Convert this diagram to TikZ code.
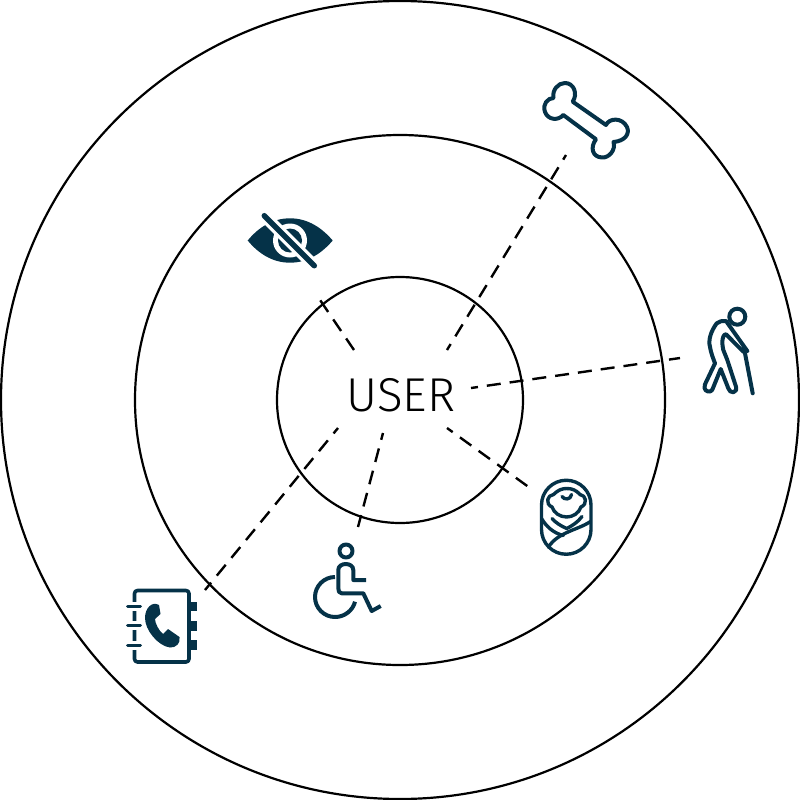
\documentclass[tikz,border=0pt]{standalone}
\usepackage{fontspec}
\setmainfont{Fira Sans}[UprightFont=* Light]
\definecolor{icon}{RGB}{5,50,72}
\tikzset{
    ring/.style={black, line width=2.2pt},
    link/.style={black, line width=2.4pt, dash pattern=on 14pt off 9pt},
    glyph/.style={icon, line width=4pt, line join=round, line cap=round},
}
\begin{document}
\begin{tikzpicture}[x=1pt, y=-1pt]
    \useasboundingbox (0,0) rectangle (800,800);

    % circles
    \foreach \r in {399, 265, 123} {
        \draw[ring] (400,400) circle (\r);
    }

    \node[text=black, font=\fontsize{47.5}{48}\selectfont, inner sep=0pt] (user) at (401,395) {USER};

    % dashed links
    \foreach \name/\xa/\ya/\xb/\yb/\ph in {bone/447/350/566/155/7, eye/354/350/318/297/0, walker/471/388/680/358/7,
        baby/447/428/530/488/7, chair/383/433/358/527/7, book/338/428/205/590/7} {
        \coordinate (\name a) at (\xa,\ya);
        \coordinate (\name b) at (\xb,\yb);
        \draw[link, dash phase=\ph pt] (\name a) -- (\name b);
    }

    % bone
    \draw[glyph] (572.7,101.7) -- (606,125) .. controls (609,118) and (622,117) .. (627,127)
        .. controls (630,134) and (625,141) .. (613.5,142) .. controls (616,150) and (609,158) .. (602,157.5)
        .. controls (592,157) and (590,147) .. (596,139.3) -- (563.3,115)
        .. controls (558,121) and (548,120) .. (545,112) .. controls (542,104) and (548,98) .. (553.5,98)
        .. controls (552,90) and (558,83) .. (565,83) .. controls (574,83) and (578,94) .. cycle;

    % eye
    \fill[icon] (247.7,240.5) .. controls (258,228) and (272,218.3) .. (290,218.3)
        .. controls (308,218.3) and (322,228) .. (332.7,240.5)
        .. controls (322,253) and (308,262.7) .. (290,262.7)
        .. controls (272,262.7) and (258,253) .. cycle;
    \fill[white] (290,240.5) circle (17);
    \fill[icon] (290,240.5) circle (12);
    \draw[white, line width=12pt] (258,209.5) -- (320,271.5);
    \draw[glyph, line width=5.5pt] (264.3,215.7) -- (314.3,265.7);

    % walker
    \draw[glyph] (737.3,316.7) circle (8);
    \draw[glyph] (747.3,351) -- (726,321) .. controls (722,321) and (719,321) .. (716.7,323.3)
        .. controls (711,331) and (708,340) .. (710,347) .. controls (711,353) and (713,358) .. (715,363.3)
        -- (705,384.3) .. controls (703,390) and (707,392) .. (710,391.5) .. controls (712,391) and (712,390) .. (713,388)
        -- (720.7,369) -- (728.3,388.3) .. controls (729,391) and (731,392.3) .. (733.3,392.3)
        .. controls (736,392) and (737,389) .. (736,386.7) -- (727.3,360) -- (723.3,350)
        .. controls (722,344) and (722,340) .. (723.3,336.7) .. controls (724,335) and (725,334) .. (726,334.3) -- (743.3,351.7);
    \draw[glyph] (745,353.3) -- (752.7,393.3);

    % baby
    \begin{scope}[glyph, line width=3.4pt]
        \draw (541.5,505) arc (180:360:24.75) -- (591,529.5) arc (0:180:24.75) -- cycle;
        % head
        \draw (553.5,494.5) .. controls (558,490) and (562,488.5) .. (566.7,488.5) .. controls (572,488.5) and (576,490) .. (580,494.5)
            .. controls (586,495) and (588,504) .. (581,507) .. controls (579,513) and (573,517) .. (566.7,517)
            .. controls (560,517) and (554,513) .. (552,507) .. controls (545,504) and (547,495) .. cycle;
        \draw (562,496.5) .. controls (564,500) and (571,500) .. (571.5,494.5);
        % collar and wraps
        \draw (552,518.5) .. controls (556,523) and (561,526) .. (566.7,528.5) .. controls (572,526) and (578,522) .. (582,516.5);
        \draw (541.5,518.5) .. controls (546,526) and (553,533) .. (563.3,535.5);
        \draw (590.5,521.5) .. controls (578,530) and (558,532) .. (548.5,547);
    \end{scope}

    % wheelchair
    \draw[glyph] (346,551) circle (6.5);
    \draw[glyph, line cap=butt] (366,580) -- (353.3,580) -- (353.3,570) .. controls (353.3,562) and (338.3,562) .. (338.3,570)
        -- (338.3,588) .. controls (338.3,591) and (339,593.3) .. (341.7,593.3) -- (363.3,593.3) -- (371.7,611) -- (380.7,606);
    \draw[glyph, line cap=butt] (335,577) .. controls (324,577) and (315,586) .. (315,597)
        .. controls (315,608) and (324,617) .. (335,617) .. controls (345,617) and (353,610) .. (355,601.7);

    % phone book
    \draw[glyph, line width=3.6pt, rounded corners=3pt] (134.5,590.5) rectangle (189,662);
    \foreach \y in {606.7, 625.7, 645} {
        \draw[white, line width=9pt] (131,\y) -- (138,\y);
        \draw[glyph, line width=3pt] (127.5,\y) -- (140.5,\y);
    }
    \foreach \y in {601.7, 621, 640} {
        \fill[icon] (190,\y) rectangle (196.7,\y+9.5);
    }
    \fill[icon] (159,605) .. controls (152,601) and (145,608) .. (145,618)
        .. controls (145,630) and (158,646) .. (170,647.5) .. controls (176,648) and (181,643) .. (179.5,637)
        -- (168,629) -- (163,634) .. controls (159,631) and (155,623) .. (155,619) -- (160.5,614) -- cycle;

\end{tikzpicture}
\end{document}
